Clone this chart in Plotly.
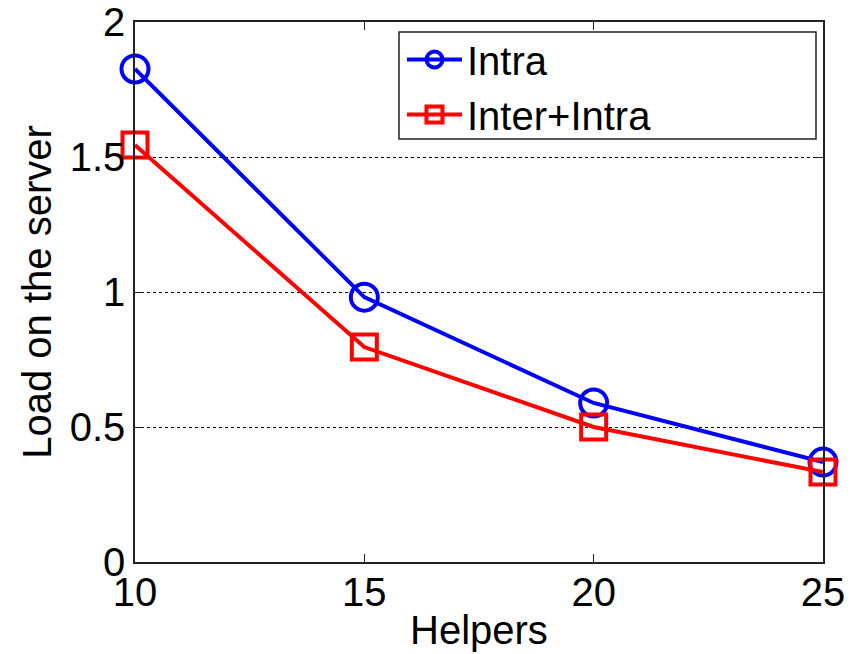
import plotly.graph_objects as go

helpers = [10, 15, 20, 25]
intra = [1.826, 0.981, 0.589, 0.370]
inter_intra = [1.544, 0.796, 0.500, 0.333]
x_ticks = [10, 15, 20, 25]
y_ticks = [0, 0.5, 1, 1.5, 2]
y_tick_labels = ["0", "0.5", "1", "1.5", "2"]

FONT = "Liberation Sans, Arial, sans-serif"

# page body adds an 8px offset; figure coords below are screen - 8
L, T = 127, 14
PW, PH = 688, 540
W, H = 864, 654


def px(xs):
    return (xs - 8 - L) / PW


def py(ys):
    return (T + PH - (ys - 8)) / PH


fig = go.Figure()
fig.add_trace(go.Scatter(
    x=helpers, y=intra, name="Intra", mode="lines+markers",
    line=dict(color="#0000ff", width=4),
    marker=dict(symbol="circle-open", size=27, color="#0000ff", line=dict(width=4, color="#0000ff")),
    cliponaxis=False,
))
fig.add_trace(go.Scatter(
    x=helpers, y=inter_intra, name="Inter+Intra", mode="lines+markers",
    line=dict(color="#ff0000", width=4),
    marker=dict(symbol="square-open", size=25, color="#ff0000", line=dict(width=4, color="#ff0000")),
    cliponaxis=False,
))

axis_common = dict(
    showline=True, linecolor="#222222", linewidth=1.5, mirror="ticks",
    ticks="inside", ticklen=8, tickcolor="#222222", tickwidth=1,
    zeroline=False, automargin=False, ticklabeloverflow="allow",
    tickfont=dict(family=FONT, size=40, color="black"),
    title_font=dict(family=FONT, size=40, color="black"),
)

fig.update_xaxes(range=[10, 25], tickvals=x_ticks, showgrid=False,
                 ticklabelstandoff=-6, **axis_common)
fig.update_yaxes(
    range=[0, 2], tickvals=y_ticks, ticktext=y_tick_labels,
    showgrid=True, gridcolor="black", gridwidth=1, griddash="dot",
    title_text="Load on the server", title_standoff=6, **axis_common,
)

# x-axis title placed precisely
fig.add_annotation(
    text="Helpers", xref="paper", yref="paper", x=0.5, y=py(630),
    xanchor="center", yanchor="middle", showarrow=False,
    font=dict(family=FONT, size=40, color="black"),
)

# legend frame (MATLAB-style box)
fig.add_shape(
    type="rect", xref="paper", yref="paper",
    x0=px(399), x1=px(816), y0=py(139), y1=py(32),
    line=dict(color="#222222", width=1.5), fillcolor="white", layer="below",
)

fig.update_layout(
    width=W, height=H,
    margin=dict(l=L, r=W - L - PW, t=T, b=H - T - PH),
    paper_bgcolor="white", plot_bgcolor="white",
    font=dict(family=FONT, color="black"),
    showlegend=True,
    legend=dict(
        x=px(402), y=py(27), xanchor="left", yanchor="top",
        bgcolor="rgba(0,0,0,0)", borderwidth=0,
        font=dict(family=FONT, size=40, color="black"),
        tracegroupgap=0, itemwidth=55,
    ),
)

fig.write_html("out.html")
